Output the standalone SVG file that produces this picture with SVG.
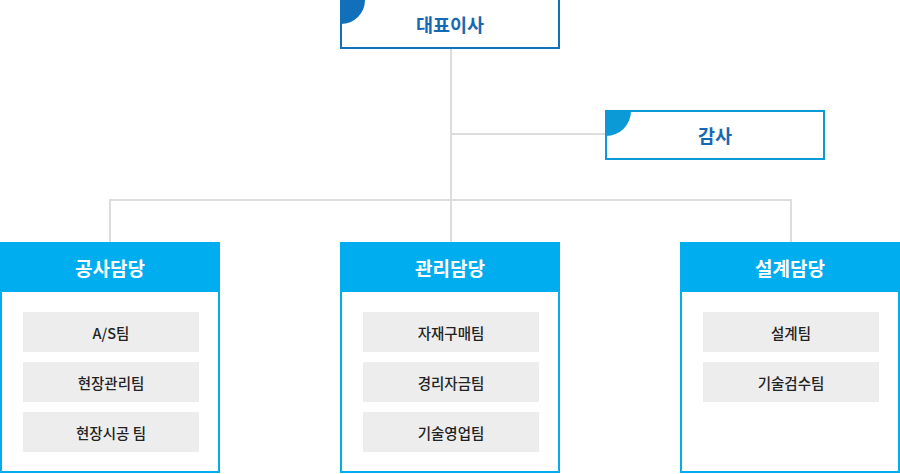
<svg xmlns="http://www.w3.org/2000/svg" width="900" height="474" viewBox="0 0 900 474">
<style>
.t{font-family:"Noto Sans CJK KR","Noto Sans",sans-serif;text-anchor:middle;dominant-baseline:central}
.top{font-size:18.5px;font-weight:bold;fill:#1768b3}
.hd{font-size:19px;font-weight:bold;fill:#fff}
.it{font-size:14.5px;fill:#222;font-weight:500}
.box{fill:#fff;stroke:#00aeef;stroke-width:2}
.hdr{fill:#00aeef}
.item{fill:#ededed}
.ln{stroke:#dddddd;stroke-width:2;fill:none}
</style>
<rect width="900" height="474" fill="#fff"/>
<g id="connectors">
<path class="ln" d="M451 49V200M451 134H606M110 242V200H791V242M451 200V242"/>
</g>
<g id="ceo">
<rect x="341" y="-1" width="218" height="49" fill="#fff" stroke="#1170b9" stroke-width="2"/>
<path d="M341 0H365A24 24 0 0 1 341 24Z" fill="#1170b9"/>
<text class="t top" x="450" y="24">대표이사</text>
</g>
<g id="audit">
<rect x="606" y="111" width="218" height="48" fill="#fff" stroke="#0b9ad6" stroke-width="2"/>
<path d="M606 111H631A25 25 0 0 1 606 136Z" fill="#0b9ad6"/>
<text class="t top" x="715" y="135">감사</text>
</g>
<g id="construction">
<rect class="box" x="1" y="243" width="218" height="229"/>
<rect class="hdr" x="0" y="242" width="220" height="50"/>
<text class="t hd" x="110" y="267">공사담당</text>
<rect class="item" x="23" y="312" width="176" height="40"/>
<text class="t it" x="111" y="332">A/S팀</text>
<rect class="item" x="23" y="362" width="176" height="40"/>
<text class="t it" x="111" y="382">현장관리팀</text>
<rect class="item" x="23" y="412" width="176" height="40"/>
<text class="t it" x="111" y="432">현장시공 팀</text>
</g>
<g id="management">
<rect class="box" x="341" y="243" width="218" height="229"/>
<rect class="hdr" x="340" y="242" width="220" height="50"/>
<text class="t hd" x="450" y="267">관리담당</text>
<rect class="item" x="363" y="312" width="176" height="40"/>
<text class="t it" x="451" y="332">자재구매팀</text>
<rect class="item" x="363" y="362" width="176" height="40"/>
<text class="t it" x="451" y="382">경리자금팀</text>
<rect class="item" x="363" y="412" width="176" height="40"/>
<text class="t it" x="451" y="432">기술영업팀</text>
</g>
<g id="design">
<rect class="box" x="681" y="243" width="218" height="229"/>
<rect class="hdr" x="680" y="242" width="220" height="50"/>
<text class="t hd" x="790" y="267">설계담당</text>
<rect class="item" x="703" y="312" width="176" height="40"/>
<text class="t it" x="791" y="332">설계팀</text>
<rect class="item" x="703" y="362" width="176" height="40"/>
<text class="t it" x="791" y="382">기술검수팀</text>
</g>
</svg>
